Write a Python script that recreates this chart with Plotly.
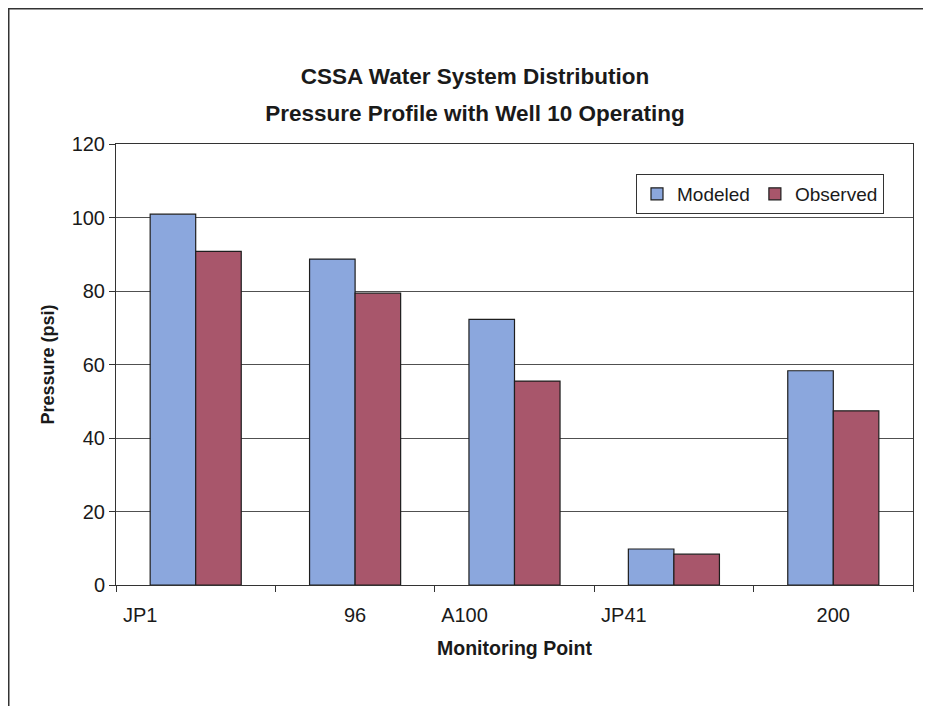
import plotly.graph_objects as go

# ---- data ----
categories = ["JP1", "96", "A100", "JP41", "200"]
modeled = [100.9, 88.7, 72.3, 9.8, 58.3]
observed = [90.8, 79.4, 55.5, 8.4, 47.4]
y_ticks = [0, 20, 40, 60, 80, 100, 120]

# label padding (the original labels carry trailing spaces)
trailing_pad = {"JP1": 20, "96": 0, "A100": 18, "JP41": 18, "200": 0}
tick_text = [c + "\u00a0" * trailing_pad[c] for c in categories]

FONT = "Arial, Liberation Sans, sans-serif"
TXT = "#1a1a1a"

fig = go.Figure()
fig.add_trace(go.Bar(
    name="Modeled", x=categories, y=modeled,
    marker=dict(color="#8ba7dd", line=dict(color="#1e1e1e", width=1.2)),
))
fig.add_trace(go.Bar(
    name="Observed", x=categories, y=observed,
    marker=dict(color="#a8566b", line=dict(color="#1e1e1e", width=1.2)),
))

OFF = 8                      # page body margin
W, H = 923, 698
L, R, T, B = 108, 18, 136, 121
pw, ph = W - L - R, H - T - B

def px_x(x):
    return (x - OFF - L) / pw

def px_y(y):
    return (H - B - (y - OFF)) / ph

title_txt = ("<span style='font-size:22.5px'><b>CSSA Water System Distribution</b></span><br>"
             "<span style='font-size:22.5px'><b>Pressure Profile with Well 10 Operating</b></span>")

fig.update_layout(
    width=W, height=H,
    margin=dict(l=L, r=R, t=T, b=B, autoexpand=False),
    paper_bgcolor="white", plot_bgcolor="white",
    font=dict(family=FONT, color=TXT, size=19),
    barmode="group", bargap=0.4286, bargroupgap=0,
    title=dict(
        text=title_txt,
        font=dict(family=FONT, size=28.5, color=TXT),
        x=(475 - OFF) / W, xanchor="center", xref="container",
        y=1 - (84 - OFF) / H, yanchor="middle", yref="container",
    ),
    showlegend=True,
    legend=dict(
        orientation="h",
        x=px_x(636), y=px_y(174), xanchor="left", yanchor="top",
        bgcolor="white", bordercolor="#333333", borderwidth=1,
        font=dict(family=FONT, size=19, color=TXT),
        traceorder="normal",
    ),
    xaxis=dict(
        type="category",
        tickmode="array", tickvals=categories, ticktext=tick_text,
        tickson="boundaries", ticks="outside", ticklen=6, tickcolor="#333",
        ticklabelstandoff=12,
        showline=True, linecolor="#333", linewidth=1, mirror=True,
        showgrid=False,
        tickfont=dict(family=FONT, size=20, color=TXT),
        title=dict(text="<b>Monitoring Point</b>", font=dict(family=FONT, size=19.5, color=TXT), standoff=16),
    ),
    yaxis=dict(
        range=[0, 120], tickmode="array", tickvals=y_ticks,
        ticks="outside", ticklen=6, tickcolor="#333",
        showline=True, linecolor="#333", linewidth=1, mirror=True,
        showgrid=True, gridcolor="#505050", gridwidth=1,
        zeroline=False,
        tickfont=dict(family=FONT, size=20, color=TXT),
        title=dict(text="<b>Pressure (psi)</b>", font=dict(family=FONT, size=18, color=TXT), standoff=12),
    ),
    shapes=[
        # outer page frame (top and left edges)
        dict(type="line", xref="paper", yref="paper",
             x0=px_x(8), x1=px_x(940), y0=px_y(8.5), y1=px_y(8.5),
             line=dict(color="#333", width=2)),
        dict(type="line", xref="paper", yref="paper",
             x0=px_x(8.5), x1=px_x(8.5), y0=px_y(8), y1=px_y(715),
             line=dict(color="#333", width=2)),
    ],
)

fig.write_html("out.html")
